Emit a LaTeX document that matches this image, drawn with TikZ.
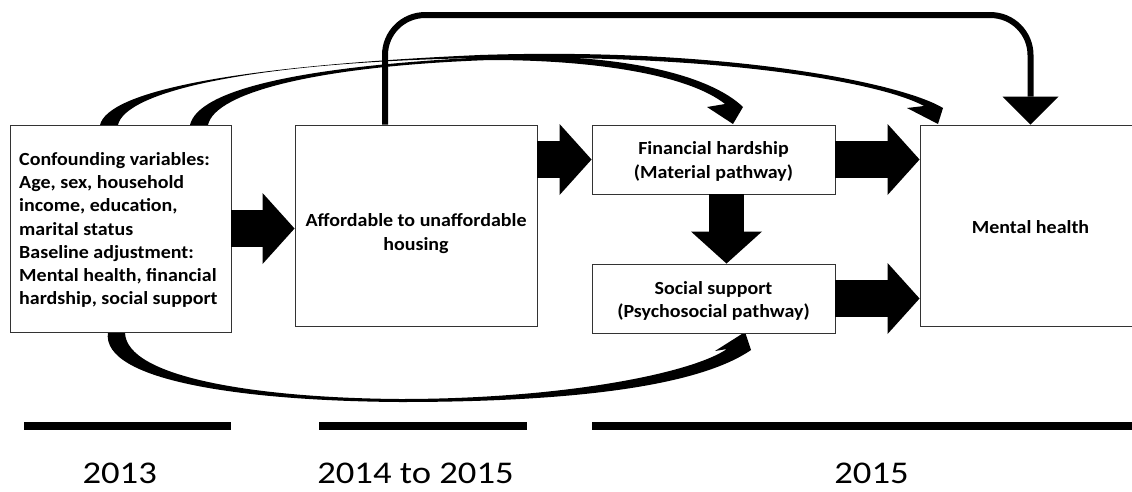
\documentclass[tikz,border=0pt]{standalone}
\usepackage{fontspec}
\setmainfont{Carlito}[FakeStretch=1.08]
\newfontfamily\yearfont{Carlito}[FakeStretch=1.16]
\usetikzlibrary{calc,arrows.meta}

\tikzset{
	box/.style={draw=black!80, line width=0.9pt, fill=white, inner sep=0pt},
	boxlabel/.style={font=\bfseries\fontsize{18.5}{23.3}\selectfont, align=center, inner sep=0pt},
	yearlabel/.style={font=\yearfont\fontsize{31.6}{38}\selectfont, anchor=base, inner sep=0pt},
	blockarrow/.style={line width=37pt, -{Triangle[width=71pt,length=32pt,line width=0pt]}},
	elbowarrow/.style={line width=6pt, rounded corners=40pt, -{Triangle[width=56pt,length=28pt,line width=0pt]}},
	timebar/.style={line width=7.5pt}
}

\begin{document}
\begin{tikzpicture}[x=1pt,y=-1pt]
	\useasboundingbox (0,0) rectangle (1132,491);
	
	%curved arrows (confounders)
	\fill (100,125) .. controls (108,92) and (230,66) .. (480,55)
		.. controls (720,47) and (900,82) .. (943,108)
		-- (938,124) -- (907,108) -- (924,106)
		.. controls (880,82) and (720,54) .. (480,58)
		.. controls (250,62) and (125,92) .. (118,125) -- cycle;	%to mental health
	\fill (190,125) .. controls (198,90) and (300,66) .. (490,57)
		.. controls (620,52) and (710,75) .. (743,107)
		-- (733,124) -- (707,107) -- (725,104)
		.. controls (690,76) and (600,60) .. (490,60)
		.. controls (320,66) and (215,92) .. (208,125) -- cycle;	%to financial hardship
	\fill (108,332) .. controls (100,382) and (250,401) .. (400,402)
		.. controls (580,402) and (700,385) .. (751,350)
		-- (745,332) -- (715,351) -- (727,349)
		.. controls (690,374) and (560,399) .. (400,399)
		.. controls (260,398) and (125,378) .. (125,332) -- cycle;	%to social support
	
	%boxes
	\node[box, minimum width=221pt, minimum height=207pt] (conf)   at (120.5,228.5) {};
	\node[box, minimum width=242pt, minimum height=201pt] (afford) at (416,225.5) {};
	\node[box, minimum width=243pt, minimum height=69pt]  (fin)    at (713.5,159.5) {};
	\node[box, minimum width=243pt, minimum height=69pt]  (soc)    at (713.5,298.5) {};
	\node[box, minimum width=221pt, minimum height=201pt] (mental) at (1030.5,225.5) {};
	
	%block arrows
	\draw[blockarrow] (conf.east) -- (conf.east -| afford.west);
	\draw[blockarrow] (afford.east |- fin.west) -- (fin.west);
	\draw[blockarrow] (fin.east) -- (fin.east -| mental.west);
	\draw[blockarrow] (soc.east) -- (soc.east -| mental.west);
	\draw[blockarrow, line width=35pt] ($(fin.south)+(13,0)$) -- ($(soc.north)+(13,0)$);
	\draw[elbowarrow] ($(afford.north)+(-31,0)$) |- ($(mental.north)+(0,-109.5)$) -- (mental.north);
	
	%inner labels
	\node[boxlabel, align=left, anchor=west] (conftext) at ($(conf.west)+(9.5,1.5)$)
		{Confounding variables:\\Age, sex, household\\income, education,\\marital status\\Baseline adjustment:\\Mental health, financial\\hardship, social support};
	\node[boxlabel] (affordtext) at ($(afford)+(0,8)$) {Affordable to unaffordable\\housing};
	\node[boxlabel] (fintext)    at ($(fin)+(0,2)$)    {Financial hardship\\(Material pathway)};
	\node[boxlabel] (soctext)    at ($(soc)+(0,2.5)$)  {Social support\\(Psychosocial pathway)};
	\node[boxlabel] (mentaltext) at ($(mental)+(0,2)$) {Mental health};
	
	%time line
	\draw[timebar] (24,426) -- (231,426);
	\draw[timebar] (319,426) -- (527,426);
	\draw[timebar] (592,426) -- (1132,426);
	\node[yearlabel] (y13)   at (119.7,483) {2013};
	\node[yearlabel] (y1415) at (415.5,483) {2014 to 2015};
	\node[yearlabel] (y15)   at (871.5,483) {2015};
\end{tikzpicture}
\end{document}
